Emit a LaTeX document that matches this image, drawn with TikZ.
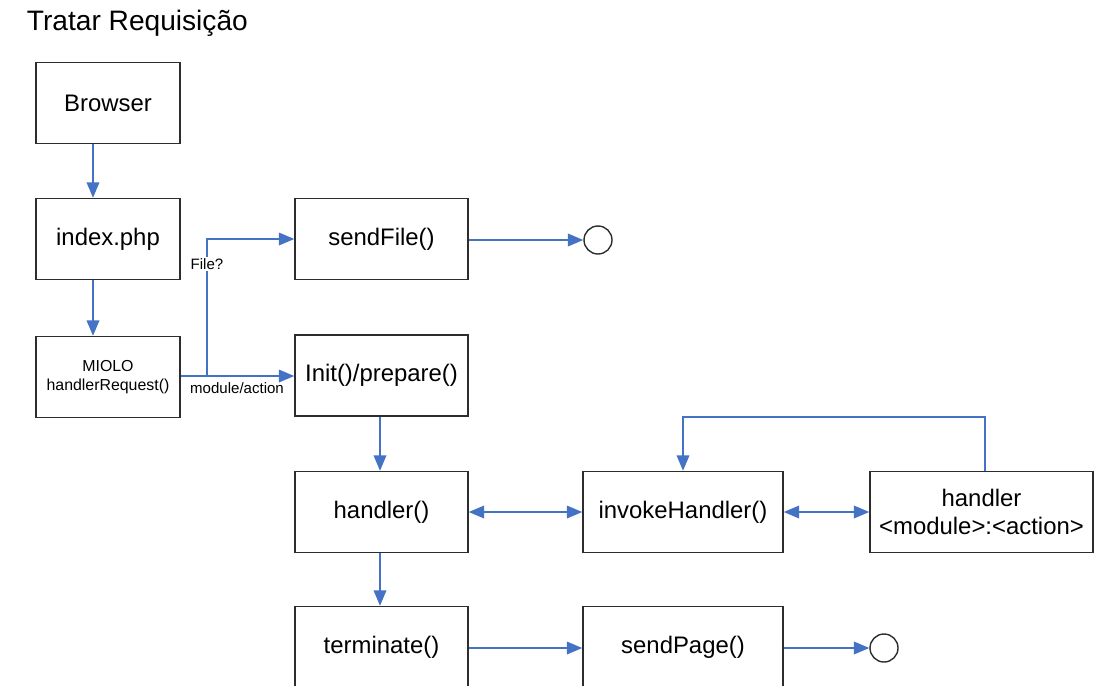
\documentclass[tikz,border=0pt]{standalone}
\usepackage{fontspec}
\setmainfont{Liberation Sans}
\usetikzlibrary{arrows.meta}
\definecolor{linkblue}{RGB}{68,114,196}
\definecolor{boxgray}{RGB}{45,45,45}

\begin{document}
\begin{tikzpicture}[x=0.025cm,y=-0.025cm,
   >={Triangle[length=11pt,width=9pt]},
   box/.style={draw=boxgray,line width=1pt,fill=white,minimum height=2.025cm,
      inner sep=0pt,align=center,font=\fontsize{17}{20}\selectfont},
   flow/.style={draw=linkblue,line width=1.1pt},
   endmark/.style={circle,draw=boxgray,line width=1pt,minimum size=0.7cm,inner sep=0pt},
   lbl/.style={font=\fontsize{10.7}{12}\selectfont,inner sep=1pt}]
   \useasboundingbox (0,0) rectangle (1095,685);
   \clip (0,0) rectangle (1095,685);

   \node[anchor=west,font=\fontsize{20}{24}\selectfont] (title) at (22,23) {Tratar Requisição};

   % left column
   \node[box,minimum width=3.6cm] (browser) at (108,103) {Browser};
   \node[box,minimum width=3.6cm] (index) at (108,239) {index.php};
   \node[box,minimum width=3.6cm,font=\fontsize{11.3}{14}\selectfont] (miolo) at (108,377) {MIOLO\\handlerRequest()};

   % middle column
   \node[box,minimum width=4.325cm] (sendfile) at (381.5,239) {sendFile()};
   \node[box,minimum width=4.325cm] (init) at (381.5,375.5) {Init()/prepare()};
   \node[box,minimum width=4.325cm] (handler) at (381.5,512) {handler()};
   \node[box,minimum width=4.325cm] (terminate) at (381.5,647) {terminate()};

   % right part
   \node[box,minimum width=5cm] (invoke) at (683,512) {invokeHandler()};
   \node[box,minimum width=5.575cm] (action) at (981.5,512) {handler\\<module>:<action>};
   \node[box,minimum width=5cm] (sendpage) at (683,647) {sendPage()};

   \node[endmark] (fileend) at (598,240) {};
   \node[endmark] (pageend) at (884,648) {};

   \coordinate (split) at (207,376);
   \coordinate (down) at (93,0);
   \coordinate (mid) at (380,0);

   \draw[flow,->] (browser.south -| down) -- (index.north -| down);
   \draw[flow,->] (index.south -| down) -- (miolo.north -| down);
   \draw[flow,->] (miolo.east |- split) -- (init.west |- split);
   \draw[flow,->] (split) |- (sendfile.west);
   \draw[flow,->] (sendfile.east |- fileend) -- (fileend);
   \draw[flow,->] (init.south -| mid) -- (handler.north -| mid);
   \draw[flow,<->] (handler) -- (invoke);
   \draw[flow,<->] (invoke) -- (action);
   \draw[flow,->] (action.north -| 985,0) -- (985,417) -| (invoke.north);
   \draw[flow,->] (handler.south -| mid) -- (terminate.north -| mid);
   \draw[flow,->] (terminate.east |- pageend) -- (sendpage.west |- pageend);
   \draw[flow,->] (sendpage.east |- pageend) -- (pageend);

   \node[lbl,fill=white] (filelbl) at (207,264) {File?};
   \node[lbl] (modlbl) at (237,388) {module/action};
\end{tikzpicture}
\end{document}
